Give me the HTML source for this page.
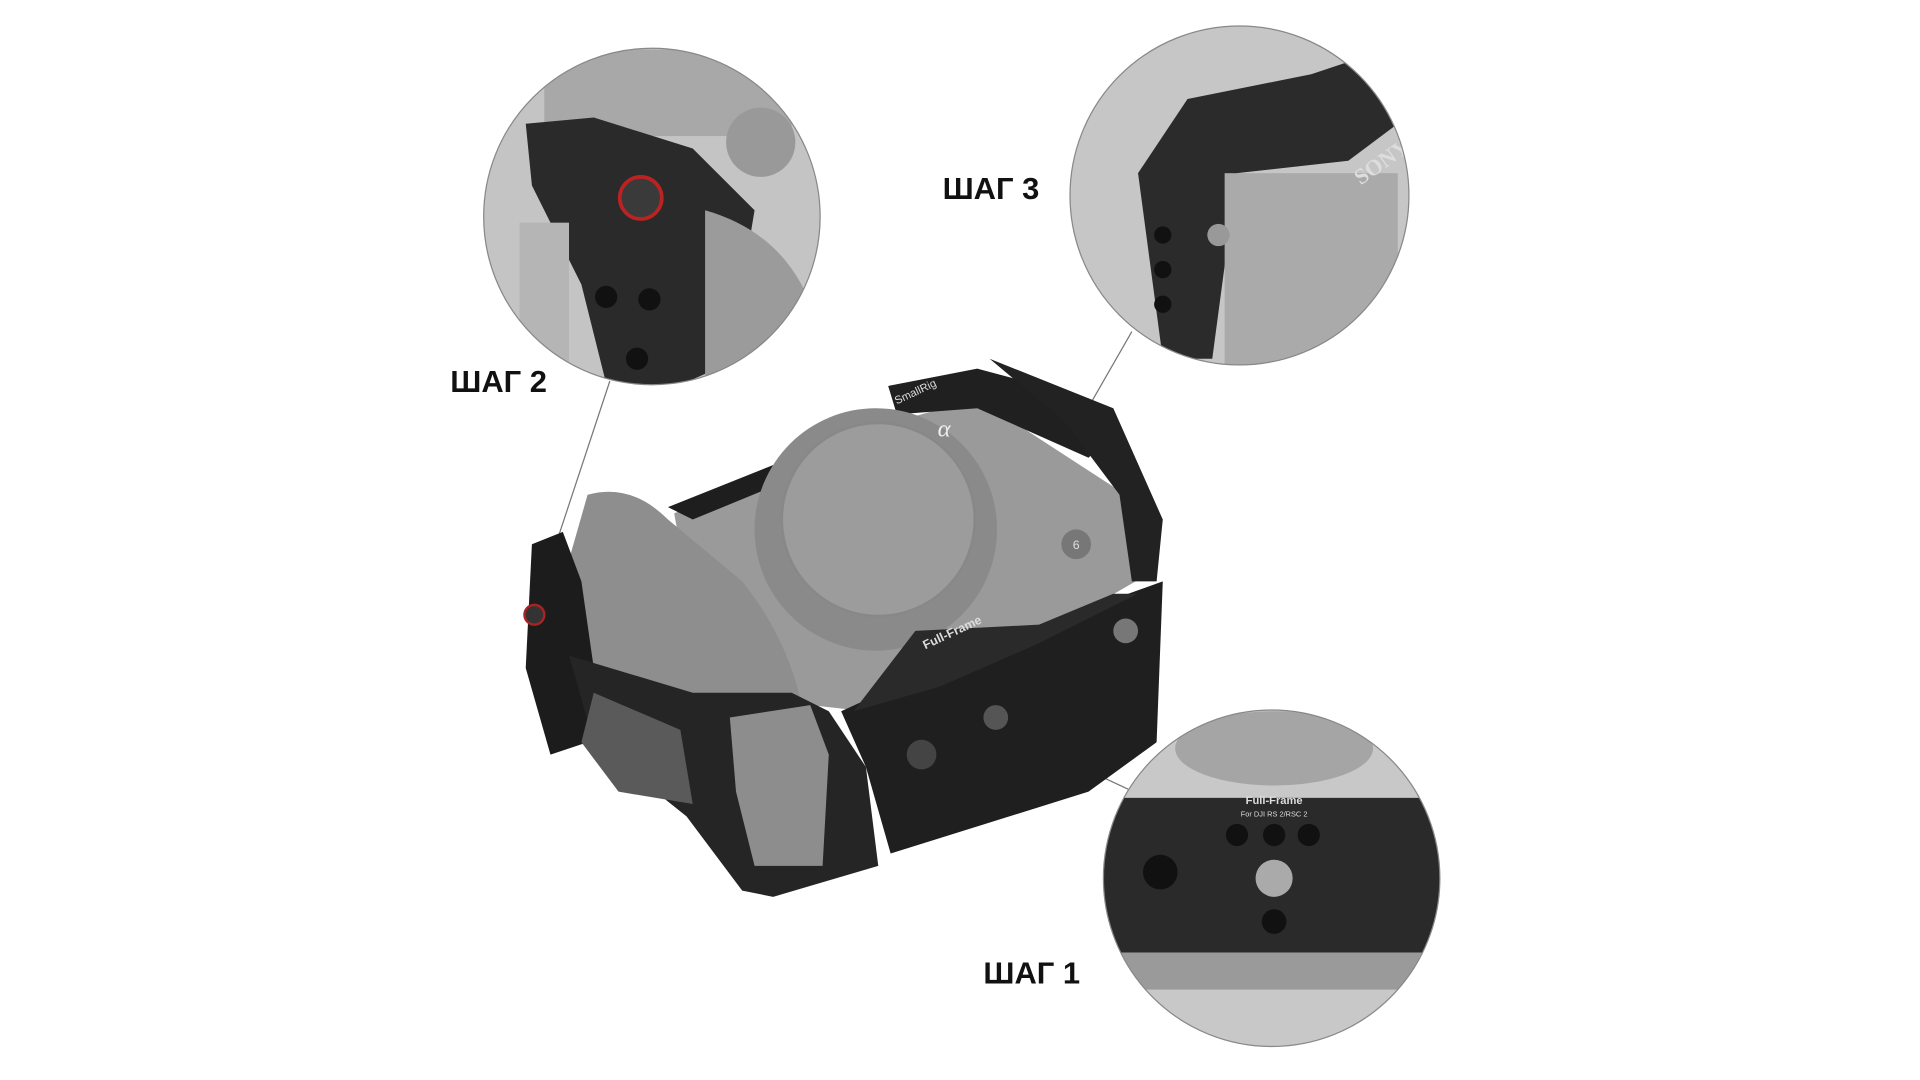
<!DOCTYPE html>
<html><head><meta charset="utf-8"><style>
html,body{margin:0;padding:0;background:#fff;width:1920px;height:1080px;overflow:hidden}
svg{display:block}
</style></head><body>
<svg width="1920" height="1080" viewBox="0 0 1920 1080">
<g transform="scale(1.237)">
<defs>
<clipPath id="c1"><circle cx="527" cy="175" r="136"/></clipPath>
<clipPath id="c2"><circle cx="1002" cy="158" r="137"/></clipPath>
<clipPath id="c3"><circle cx="1028" cy="710" r="136"/></clipPath>
</defs>
<!-- leader lines -->
<g stroke="#777" stroke-width="1" fill="none">
<line x1="493" y1="308" x2="452" y2="432"/>
<line x1="915" y1="268" x2="868" y2="350"/>
<line x1="820" y1="595" x2="912" y2="638"/>
</g>
<!-- camera -->
<g>
<polygon points="545,415 710,345 790,322 910,400 918,470 840,515 700,575 610,565 555,470" fill="#9a9a9a"/>
<polygon points="540,410 715,340 718,355 560,420" fill="#1e1e1e"/>
<polygon points="718,312 790,298 880,322 900,350 880,370 790,330 725,335" fill="#202020"/>
<polygon points="800,290 900,330 940,420 935,470 915,470 905,400 860,340" fill="#222"/>
<circle cx="708" cy="428" r="98" fill="#8a8a8a"/>
<circle cx="710" cy="420" r="78" fill="#9c9c9c" stroke="#888" stroke-width="2"/>
<circle cx="870" cy="440" r="12" fill="#777"/>
<text x="870" y="444" font-family="Liberation Sans,sans-serif" font-size="10" fill="#ddd" text-anchor="middle">6</text>
<text x="758" y="353" font-family="Liberation Serif,serif" font-size="20" fill="#eee" font-style="italic">α</text>
<!-- grip -->
<path d="M475,400 Q510,390 540,420 L600,470 Q640,520 650,580 L620,640 L520,640 Q470,560 455,470 Z" fill="#8e8e8e"/>
<!-- left cage -->
<path d="M430,440 L455,430 L470,470 L480,540 L475,600 L445,610 L425,540 Z" fill="#1c1c1c"/>
<circle cx="432" cy="497" r="8" fill="#333" stroke="#a22" stroke-width="2"/>
<!-- front bottom cage -->
<path d="M460,530 L560,560 L640,560 L670,575 L700,620 L710,700 L625,725 L600,720 L555,660 L480,600 Z" fill="#252525"/>
<path d="M590,580 L655,570 L670,610 L665,700 L610,700 L595,640 Z" fill="#8d8d8d"/>
<path d="M480,560 L550,590 L560,650 L500,640 L470,600 Z" fill="#5a5a5a"/>
<!-- right bottom cage -->
<path d="M680,575 L800,520 L940,470 L935,600 L880,640 L720,690 L700,620 Z" fill="#1f1f1f"/>
<path d="M740,510 L840,505 L900,480 L920,480 L840,520 L760,555 L690,575 Z" fill="#2a2a2a"/>
<circle cx="745" cy="610" r="12" fill="#444"/>
<circle cx="805" cy="580" r="10" fill="#555"/>
<circle cx="910" cy="510" r="10" fill="#777"/>
<text x="748" y="525" font-family="Liberation Sans,sans-serif" font-size="10" font-weight="bold" fill="#ddd" transform="rotate(-25 748 525)">Full-Frame</text>
<text x="725" y="327" font-family="Liberation Sans,sans-serif" font-size="9" fill="#ddd" transform="rotate(-25 725 327)">SmallRig</text>
</g>
<!-- circle 1 -->
<g clip-path="url(#c1)">
<rect x="380" y="30" width="300" height="300" fill="#c4c4c4"/>
<rect x="440" y="40" width="200" height="70" fill="#a8a8a8"/>
<circle cx="615" cy="115" r="28" fill="#999"/>
<path d="M425,100 L480,95 L560,120 L610,170 L600,230 L575,300 L530,320 L490,310 L470,230 L430,150 Z" fill="#2a2a2a"/>
<path d="M570,170 Q640,190 660,260 L620,320 L570,310 Z" fill="#9b9b9b"/>
<circle cx="518" cy="160" r="17" fill="#3a3a3a" stroke="#b22" stroke-width="3"/>
<circle cx="490" cy="240" r="9" fill="#111"/>
<circle cx="525" cy="242" r="9" fill="#111"/>
<circle cx="515" cy="290" r="9" fill="#111"/>
<rect x="420" y="180" width="40" height="140" fill="#b5b5b5"/>
</g>
<circle cx="527" cy="175" r="136" fill="none" stroke="#888" stroke-width="1"/>
<!-- circle 2 -->
<g clip-path="url(#c2)">
<rect x="860" y="20" width="290" height="290" fill="#c6c6c6"/>
<path d="M960,80 L1060,60 L1120,40 L1130,100 L1090,130 L1000,140 L980,290 L940,290 L920,140 Z" fill="#2b2b2b"/>
<rect x="990" y="140" width="140" height="160" fill="#aaa"/>
<circle cx="985" cy="190" r="9" fill="#999"/>
<circle cx="940" cy="190" r="7" fill="#111"/>
<circle cx="940" cy="218" r="7" fill="#111"/>
<circle cx="940" cy="246" r="7" fill="#111"/>
<text x="1100" y="150" font-family="Liberation Serif,serif" font-size="18" font-weight="bold" fill="#ddd" transform="rotate(-35 1100 150)">SONY</text>
</g>
<circle cx="1002" cy="158" r="137" fill="none" stroke="#888" stroke-width="1"/>
<!-- circle 3 -->
<g clip-path="url(#c3)">
<rect x="880" y="570" width="300" height="290" fill="#c8c8c8"/>
<ellipse cx="1030" cy="605" rx="80" ry="30" fill="#a5a5a5"/>
<rect x="890" y="645" width="280" height="130" fill="#2a2a2a"/>
<rect x="890" y="770" width="280" height="30" fill="#9a9a9a"/>
<circle cx="1000" cy="675" r="9" fill="#111"/>
<circle cx="1030" cy="675" r="9" fill="#111"/>
<circle cx="1058" cy="675" r="9" fill="#111"/>
<circle cx="1030" cy="710" r="15" fill="#aaa"/>
<circle cx="1030" cy="745" r="10" fill="#111"/>
<circle cx="938" cy="705" r="14" fill="#111"/>
<text x="1030" y="650" font-family="Liberation Sans,sans-serif" font-size="9" font-weight="bold" fill="#ddd" text-anchor="middle">Full-Frame</text>
<text x="1030" y="660" font-family="Liberation Sans,sans-serif" font-size="6" fill="#ddd" text-anchor="middle">For DJI RS 2/RSC 2</text>
</g>
<circle cx="1028" cy="710" r="136" fill="none" stroke="#888" stroke-width="1"/>
<!-- labels -->
<g font-family="Liberation Sans,sans-serif" font-weight="bold" font-size="25" fill="#111">
<text x="762" y="161">ШАГ 3</text>
<text x="364" y="317">ШАГ 2</text>
<text x="795" y="795">ШАГ 1</text>
</g>
</g>
</svg>
</body></html>
